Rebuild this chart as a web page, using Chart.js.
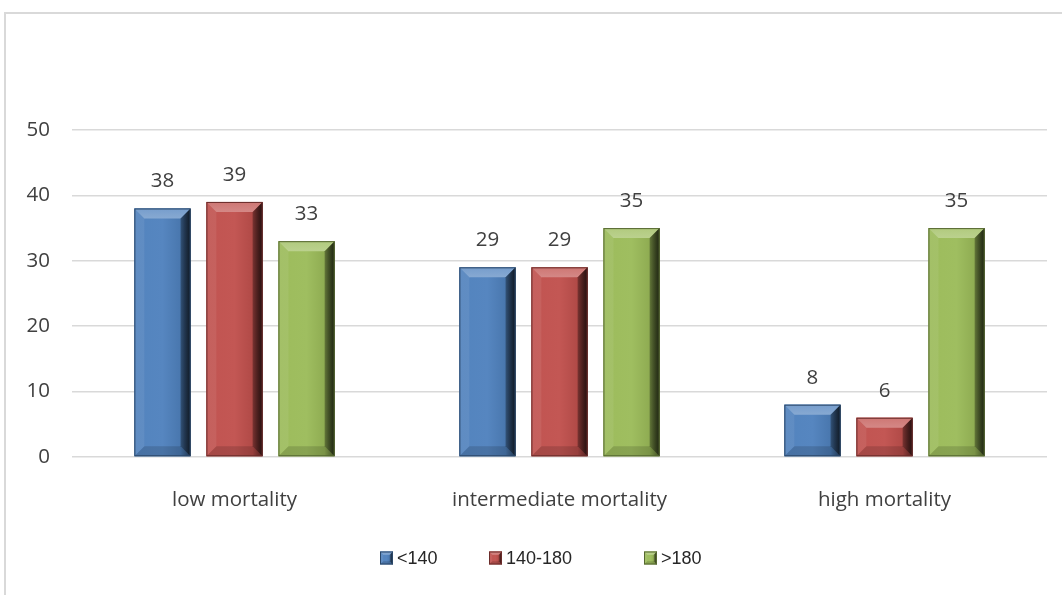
<!DOCTYPE html>
<html>
<head>
<meta charset="utf-8">
<script src="https://cdn.jsdelivr.net/npm/chart.js@4/dist/chart.umd.min.js"></script>
<style>
  html, body { margin: 0; padding: 0; background: #ffffff; }
  #wrap { position: relative; width: 1062px; height: 595px; }
</style>
</head>
<body>
<div id="wrap"><canvas id="chart" width="1062" height="595"></canvas></div>
<script>
// Patients per mortality-risk group, split by value range
const categories = ['low mortality', 'intermediate mortality', 'high mortality'];
const seriesNames = ['<140', '140-180', '>180'];
const under140 = [38, 29, 8];
const from140to180 = [39, 29, 6];
const over180 = [33, 35, 35];
const yTicks = [0, 10, 20, 30, 40, 50];

const seriesColors = ['#4F81BD', '#C0504D', '#9BBB59'];

function hexToRgb(hex) {
  const n = parseInt(hex.slice(1), 16);
  return [(n >> 16) & 255, (n >> 8) & 255, n & 255];
}
function shade(hex, f) {
  // f > 0 mixes toward white, f < 0 toward black
  const c = hexToRgb(hex).map(v => f >= 0 ? Math.round(v + (255 - v) * f) : Math.round(v * (1 + f)));
  return `rgb(${c[0]},${c[1]},${c[2]})`;
}

// Draws a bevelled (chiselled) box over a rectangle
function drawBevel(ctx, l, t, w, h, color, bMax) {
  if (h <= 0 || w <= 0) return;
  const r = l + w, btm = t + h;
  const b = Math.min(bMax, w / 4, h / 2);
  ctx.save();
  // face with a slight left-to-right shading
  const face = ctx.createLinearGradient(l, 0, r, 0);
  face.addColorStop(0, shade(color, 0.02));
  face.addColorStop(0.5, shade(color, 0.04));
  face.addColorStop(0.82, shade(color, -0.08));
  face.addColorStop(1, shade(color, -0.5));
  ctx.fillStyle = face;
  ctx.fillRect(l, t, w, h);

  const poly = (pts, fill) => {
    ctx.beginPath();
    ctx.moveTo(pts[0][0], pts[0][1]);
    for (let i = 1; i < pts.length; i++) ctx.lineTo(pts[i][0], pts[i][1]);
    ctx.closePath();
    ctx.fillStyle = fill;
    ctx.fill();
  };
  // top bevel
  const topG = ctx.createLinearGradient(0, t, 0, t + b);
  topG.addColorStop(0, shade(color, 0.22));
  topG.addColorStop(1, shade(color, 0.32));
  poly([[l, t], [r, t], [r - b, t + b], [l + b, t + b]], topG);
  // left bevel
  poly([[l, t], [l + b, t + b], [l + b, btm - b], [l, btm]], 'rgba(255,255,255,0.07)');
  // right bevel
  const rightG = ctx.createLinearGradient(r - b, 0, r, 0);
  rightG.addColorStop(0, 'rgba(0,0,0,0.3)');
  rightG.addColorStop(1, 'rgba(0,0,0,0.6)');
  poly([[r, t], [r, btm], [r - b, btm - b], [r - b, t + b]], rightG);
  // bottom bevel
  poly([[l, btm], [l + b, btm - b], [r - b, btm - b], [r, btm]], 'rgba(0,0,0,0.14)');
  // thin dark outline
  ctx.strokeStyle = shade(color, -0.45);
  ctx.lineWidth = 1;
  ctx.strokeRect(l + 0.5, t + 0.5, w - 1, h - 1);
  ctx.restore();
}

const framePlugin = {
  id: 'frame',
  beforeDraw(chart) {
    const ctx = chart.ctx;
    ctx.save();
    ctx.fillStyle = '#ffffff';
    ctx.fillRect(0, 0, chart.width, chart.height);
    ctx.fillStyle = '#d9d9d9';
    ctx.fillRect(4, 12, 2, chart.height - 12);
    ctx.fillRect(4, 12, chart.width - 4, 2);
    ctx.restore();
  }
};

const bevelPlugin = {
  id: 'bevelBars',
  afterDatasetsDraw(chart) {
    const ctx = chart.ctx;
    chart.data.datasets.forEach((ds, i) => {
      const meta = chart.getDatasetMeta(i);
      meta.data.forEach(el => {
        const p = el.getProps(['x', 'y', 'base', 'width'], true);
        drawBevel(ctx, p.x - p.width / 2, p.y, p.width, p.base - p.y, ds.backgroundColor, 10);
      });
    });
  }
};

const valueLabelPlugin = {
  id: 'valueLabels',
  afterDatasetsDraw(chart) {
    const ctx = chart.ctx;
    ctx.save();
    ctx.font = '20.5px "Open Sans", sans-serif';
    ctx.fillStyle = '#404040';
    ctx.textAlign = 'center';
    ctx.textBaseline = 'middle';
    chart.data.datasets.forEach((ds, i) => {
      const meta = chart.getDatasetMeta(i);
      meta.data.forEach((el, j) => {
        const p = el.getProps(['x', 'y'], true);
        ctx.fillText(String(ds.data[j]), p.x, p.y - 27);
      });
    });
    ctx.restore();
  }
};

const legendPlugin = {
  id: 'bevelLegend',
  afterDraw(chart, args, opts) {
    const ctx = chart.ctx;
    ctx.save();
    ctx.font = '18px "Liberation Sans", Arial, sans-serif';
    ctx.textAlign = 'left';
    ctx.textBaseline = 'middle';
    chart.data.datasets.forEach((ds, i) => {
      const x = opts.xs[i];
      const s = opts.box;
      drawBevel(ctx, x, opts.y - s / 2, s, s, ds.backgroundColor, 4);
      ctx.fillStyle = '#262626';
      ctx.fillText(ds.label, x + s + 4, opts.y + 1);
    });
    ctx.restore();
  }
};

const seriesData = [under140, from140to180, over180];

new Chart(document.getElementById('chart'), {
  type: 'bar',
  data: {
    labels: categories,
    datasets: seriesNames.map((name, i) => ({
      label: name,
      data: seriesData[i],
      backgroundColor: seriesColors[i],
      borderWidth: 0,
      categoryPercentage: 0.665,
      barPercentage: 0.78
    }))
  },
  options: {
    responsive: false,
    animation: false,
    devicePixelRatio: 1,
    layout: { padding: { top: 130, right: 15, bottom: 0, left: 0 } },
    plugins: {
      legend: { display: false },
      tooltip: { enabled: false },
      bevelLegend: { xs: [380, 489, 644], y: 558, box: 13 }
    },
    scales: {
      x: {
        grid: { display: false },
        border: { display: false },
        ticks: {
          font: { family: '"Open Sans", sans-serif', size: 20.5 },
          color: '#404040',
          padding: 23
        },
        afterFit(scale) { scale.height = 138; }
      },
      y: {
        min: 0,
        max: 50,
        border: { display: false },
        grid: { color: '#d9d9d9', lineWidth: 1.5, drawTicks: false },
        ticks: {
          font: { family: '"Open Sans", sans-serif', size: 20.5 },
          color: '#404040',
          padding: 22
        },
        afterBuildTicks(scale) { scale.ticks = yTicks.map(v => ({ value: v })); },
        afterFit(scale) { scale.width = 72; }
      }
    }
  },
  plugins: [framePlugin, bevelPlugin, valueLabelPlugin, legendPlugin]
});
</script>
</body>
</html>
